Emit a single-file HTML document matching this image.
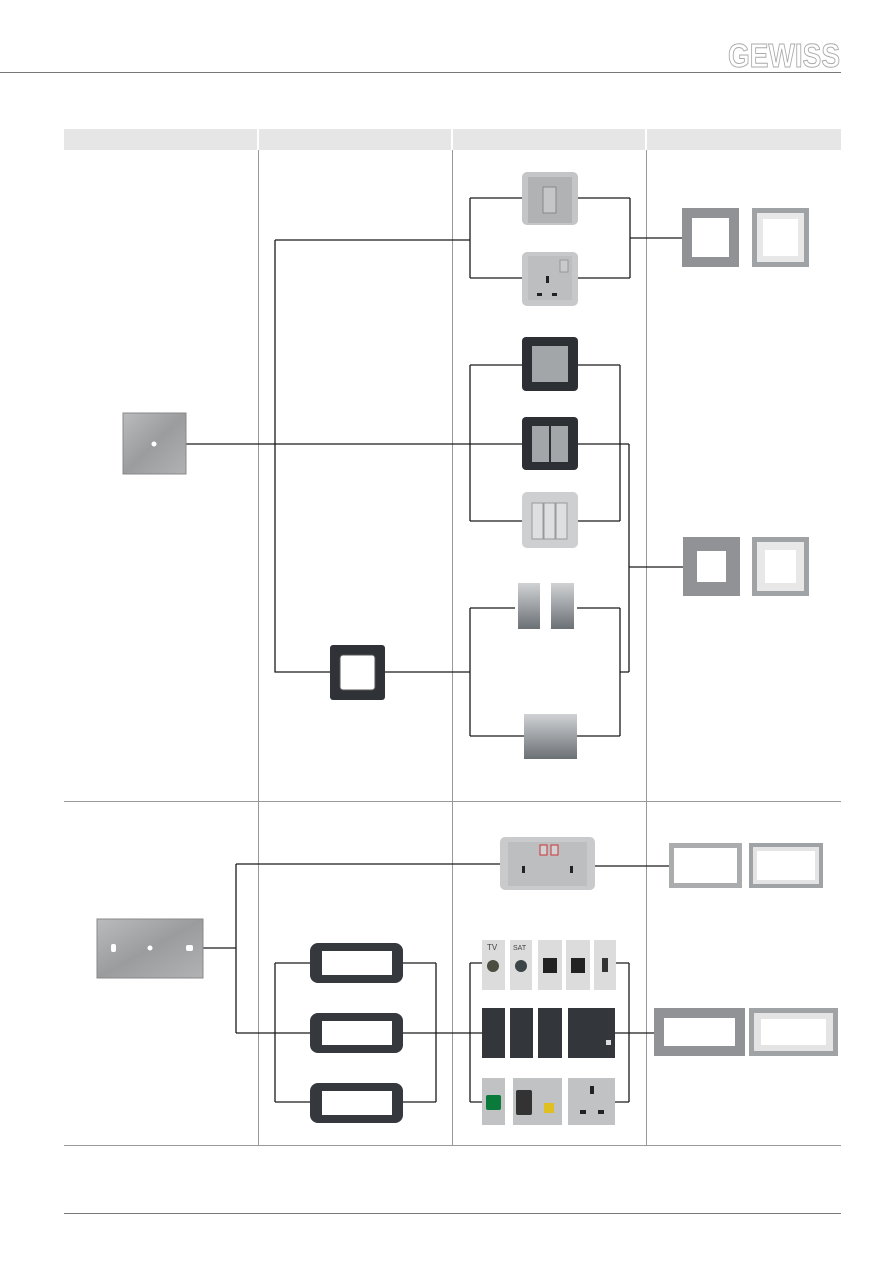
<!DOCTYPE html>
<html><head><meta charset="utf-8"><style>
html,body{margin:0;padding:0;background:#fff}
svg{display:block}
</style></head><body>
<svg width="893" height="1263" viewBox="0 0 893 1263" xmlns="http://www.w3.org/2000/svg">
<defs>
<linearGradient id="mod" x1="0" y1="0" x2="0" y2="1"><stop offset="0" stop-color="#d0d2d4"/><stop offset="1" stop-color="#6b7075"/></linearGradient>
<linearGradient id="metal" x1="0" y1="0" x2="1" y2="1"><stop offset="0" stop-color="#b9bbbd"/><stop offset="0.5" stop-color="#9a9c9e"/><stop offset="1" stop-color="#b0b2b4"/></linearGradient>
</defs>
<line x1="0" y1="72.5" x2="841" y2="72.5" stroke="#777" stroke-width="1"/>
<text x="728" y="67" font-family="Liberation Sans, sans-serif" font-weight="bold" font-size="33" fill="#fff" stroke="#aaa" stroke-width="1" textLength="112" lengthAdjust="spacingAndGlyphs">GEWISS</text>
<rect x="64" y="129" width="777" height="21" fill="#e6e6e6"/>
<rect x="257" y="129" width="2" height="21" fill="#fff"/>
<rect x="451" y="129" width="2" height="21" fill="#fff"/>
<rect x="645" y="129" width="2" height="21" fill="#fff"/>
<g stroke="#999" stroke-width="1">
<line x1="258.5" y1="150" x2="258.5" y2="1145"/>
<line x1="452.5" y1="150" x2="452.5" y2="1145"/>
<line x1="646.5" y1="150" x2="646.5" y2="1145"/>
<line x1="64" y1="801.5" x2="841" y2="801.5"/>
<line x1="64" y1="1145.5" x2="841" y2="1145.5"/>
<line x1="64" y1="1213.5" x2="841" y2="1213.5" stroke="#777"/>
</g>
<g stroke="#1a1a1a" stroke-width="1.3" fill="none">
<path d="M470 198V278M470 198H522M470 278H522M578 198H630M578 278H630M630 198V278M630 238H682"/>
<path d="M275 240H470M275 240V672H330M385 672H470"/>
<path d="M470 608V736M470 608H515M470 736H525M577 608H620M577 736H620M620 608V736M620 672H629"/>
<path d="M470 365V521M470 365H522M470 521H522M578 365H620M578 521H620M620 365V521"/>
<path d="M186 444H524M578 444H629M629 444V672M629 567H683"/>
<path d="M203 948H236M236 864V1033M236 864H500M595 866H669M236 1033H310M403 1033H482M275 963V1102M275 963H310M275 1102H310M403 963H436M403 1102H436M436 963V1102"/>
<path d="M470 963V1102M470 963H482M470 1102H482M616 963H629M615 1102H629M629 963V1102M615 1033H655"/>
</g>
<rect x="123" y="413" width="63" height="61" fill="url(#metal)" stroke="#888"/>
<circle cx="154" cy="444" r="2.5" fill="#fff"/>
<rect x="97" y="919" width="106" height="59" fill="url(#metal)" stroke="#888"/>
<circle cx="150" cy="948" r="2.5" fill="#fff"/><rect x="111" y="944" width="5" height="8" rx="2" fill="#fff"/><rect x="186" y="945" width="7" height="6" rx="2" fill="#fff"/>
<rect x="522" y="172" width="56" height="53" rx="5" fill="#c3c5c7"/><rect x="528" y="177" width="44" height="46" fill="#b0b2b4"/><rect x="543" y="187" width="13" height="26" fill="#c4c6c8" stroke="#888"/>
<rect x="522" y="252" width="56" height="54" rx="5" fill="#c6c8ca"/><rect x="528" y="256" width="44" height="44" fill="#bcbec0"/><rect x="546" y="276" width="3" height="7" fill="#222"/><rect x="537" y="293" width="5" height="3" fill="#222"/><rect x="552" y="293" width="5" height="3" fill="#222"/><rect x="560" y="260" width="8" height="12" fill="#c8cacc" stroke="#999"/>
<rect x="522" y="337" width="56" height="54" rx="4" fill="#2c2f33"/><rect x="532" y="346" width="36" height="36" fill="#a3a6a9"/>
<rect x="522" y="417" width="56" height="53" rx="4" fill="#2c2f33"/><rect x="532" y="426" width="17" height="36" fill="#a3a6a9"/><rect x="551" y="426" width="17" height="36" fill="#a3a6a9"/>
<rect x="522" y="492" width="56" height="56" rx="5" fill="#cdcfd1"/><rect x="532" y="503" width="11" height="36" fill="#dedfe0" stroke="#999"/><rect x="544" y="503" width="11" height="36" fill="#dedfe0" stroke="#999"/><rect x="556" y="503" width="11" height="36" fill="#dedfe0" stroke="#999"/>
<rect x="518" y="583" width="22" height="46" fill="url(#mod)"/><rect x="551" y="583" width="23" height="46" fill="url(#mod)"/>
<rect x="524" y="714" width="53" height="45" fill="url(#mod)"/>
<rect x="330" y="645" width="55" height="55" rx="3" fill="#2f3236"/><rect x="340" y="655" width="35" height="35" rx="3" fill="#fff" stroke="#555"/>
<rect x="310" y="943" width="93" height="40" rx="8" fill="#35383c"/><rect x="322" y="951" width="70" height="24" fill="#fff"/>
<rect x="310" y="1013" width="93" height="40" rx="8" fill="#35383c"/><rect x="322" y="1021" width="70" height="24" fill="#fff"/>
<rect x="310" y="1083" width="93" height="40" rx="8" fill="#35383c"/><rect x="322" y="1091" width="70" height="24" fill="#fff"/>
<rect x="500" y="837" width="95" height="53" rx="5" fill="#c8cacc"/><rect x="508" y="842" width="79" height="44" fill="#bcbec0"/>
<rect x="522" y="866" width="3" height="7" fill="#222"/><rect x="570" y="866" width="3" height="7" fill="#222"/><rect x="540" y="845" width="7" height="10" fill="#d0d2d4" stroke="#c33"/><rect x="551" y="845" width="7" height="10" fill="#d0d2d4" stroke="#c33"/>
<g fill="#dcdcdc"><rect x="482" y="940" width="23" height="50"/><rect x="510" y="940" width="22" height="50"/><rect x="538" y="940" width="24" height="50"/><rect x="566" y="940" width="24" height="50"/><rect x="594" y="940" width="22" height="50"/></g>
<circle cx="493" cy="966" r="6" fill="#4a4d40"/><circle cx="521" cy="966" r="6" fill="#3b4446"/>
<rect x="543" y="958" width="14" height="15" fill="#222"/><rect x="571" y="958" width="14" height="15" fill="#222"/><rect x="602" y="958" width="6" height="14" fill="#333"/>
<text x="487" y="950" font-family="Liberation Sans, sans-serif" font-size="8" fill="#444">TV</text><text x="513" y="950" font-family="Liberation Sans, sans-serif" font-size="7" fill="#444">SAT</text>
<g fill="#33373b"><rect x="482" y="1008" width="23" height="50"/><rect x="510" y="1008" width="23" height="50"/><rect x="538" y="1008" width="24" height="50"/><rect x="568" y="1008" width="47" height="50"/></g>
<rect x="606" y="1040" width="5" height="5" fill="#ddd"/>
<rect x="482" y="1078" width="23" height="47" fill="#c0c2c4"/><rect x="486" y="1095" width="15" height="15" rx="2" fill="#0a7a3a"/>
<rect x="513" y="1078" width="49" height="47" fill="#c0c2c4"/><rect x="516" y="1090" width="16" height="25" rx="2" fill="#333"/><rect x="544" y="1103" width="10" height="10" fill="#e0c020"/>
<rect x="568" y="1078" width="47" height="47" fill="#c0c2c4"/><rect x="590" y="1086" width="4" height="8" fill="#222"/><rect x="580" y="1110" width="6" height="4" fill="#222"/><rect x="598" y="1110" width="6" height="4" fill="#222"/>
<rect x="682" y="208" width="57" height="59" fill="#909296"/><rect x="692" y="218" width="37" height="39" fill="#fff"/>
<rect x="752" y="208" width="57" height="59" fill="#a0a3a6"/><rect x="757" y="213" width="47" height="49" fill="#e8e8e8"/><rect x="763" y="219" width="35" height="37" fill="#fff"/>
<rect x="683" y="537" width="57" height="59" fill="#909296"/><rect x="697" y="551" width="29" height="31" fill="#fff"/>
<rect x="752" y="537" width="57" height="59" fill="#a0a3a6"/><rect x="757" y="542" width="47" height="49" fill="#e8e8e8"/><rect x="765" y="550" width="31" height="33" fill="#fff"/>
<rect x="669" y="843" width="73" height="45" fill="#aaacae"/><rect x="674" y="848" width="63" height="35" fill="#fff"/>
<rect x="749" y="843" width="74" height="45" fill="#a0a3a6"/><rect x="753" y="847" width="66" height="37" fill="#e4e4e4"/><rect x="757" y="851" width="58" height="29" fill="#fff"/>
<rect x="654" y="1008" width="91" height="48" fill="#909296"/><rect x="664" y="1018" width="71" height="28" fill="#fff"/>
<rect x="749" y="1008" width="89" height="48" fill="#a0a3a6"/><rect x="754" y="1013" width="79" height="38" fill="#e4e4e4"/><rect x="761" y="1019" width="65" height="26" fill="#fff"/>
</svg>
</body></html>
